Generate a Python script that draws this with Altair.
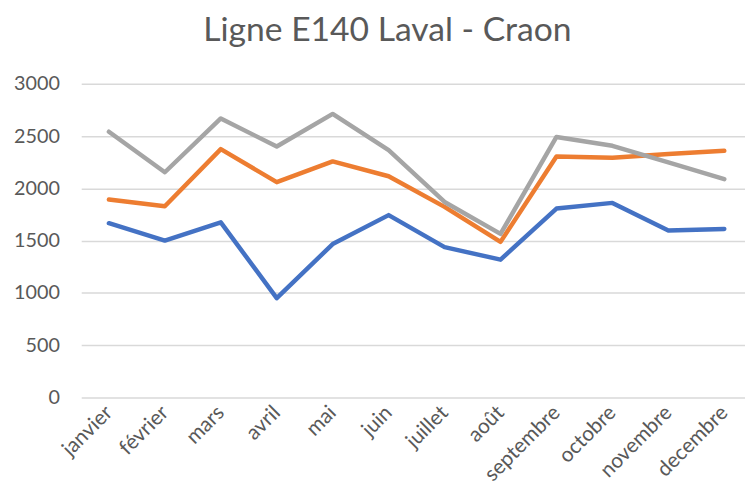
import altair as alt
import pandas as pd

months = ["janvier", "février", "mars", "avril", "mai", "juin", "juillet",
          "août", "septembre", "octobre", "novembre", "decembre"]
series_names = ["Série 1", "Série 2", "Série 3"]
blue = [1667, 1500, 1675, 950, 1467, 1744, 1438, 1318, 1807, 1861, 1596, 1612]
orange = [1893, 1829, 2375, 2059, 2258, 2116, 1823, 1488, 2305, 2293, 2328, 2359]
gray = [2542, 2154, 2669, 2400, 2712, 2366, 1870, 1564, 2492, 2407, 2249, 2088]
colors = ["#4472C4", "#ED7D31", "#A5A5A5"]

rows = []
for name, vals in zip(series_names, [blue, orange, gray]):
    for i, (m, v) in enumerate(zip(months, vals)):
        rows.append({"mois": m, "valeur": v, "serie": name, "ordre": i})
df = pd.DataFrame(rows)

FONT = "Lato"
GREY_TXT = "#595959"
label_expr = "[" + ",".join("'" + m + "'" for m in months) + "][datum.value]"

chart = alt.Chart(df).mark_line(strokeWidth=4.5, strokeCap="round", strokeJoin="round").encode(
    x=alt.X("ordre:Q", scale=alt.Scale(domain=[-0.495, 11.37], nice=False, zero=False),
            axis=alt.Axis(title=None, values=list(range(len(months))), labelExpr=label_expr,
                          labelAngle=-45, labelFontSize=21, labelFont=FONT,
                          labelColor=GREY_TXT, ticks=False, domain=False, grid=False,
                          labelPadding=12, labelAlign="right", labelBaseline="middle",
                          labelFlush=False, labelOverlap=False)),
    y=alt.Y("valeur:Q", scale=alt.Scale(domain=[0, 3000], nice=False),
            axis=alt.Axis(title=None, values=[0, 500, 1000, 1500, 2000, 2500, 3000],
                          format="d", labelFontSize=20, labelFont=FONT, labelColor=GREY_TXT,
                          ticks=False, domain=False, gridColor="#D9D9D9", gridWidth=1.5,
                          labelPadding=22)),
    color=alt.Color("serie:N", scale=alt.Scale(domain=series_names, range=colors), legend=None),
    detail="serie:N",
).properties(
    width=671,
    height=317,
    title=alt.TitleParams("Ligne E140 Laval - Craon", font=FONT, fontSize=34,
                          fontWeight="normal", color=GREY_TXT, anchor="middle", dx=-26,
                          offset=26),
    autosize=alt.AutoSizeParams(type="none"),
    padding={"left": 74, "top": 74, "right": 0, "bottom": 97},
).configure_view(stroke=None)

chart.save("out.html", embed_options={"renderer": "svg", "actions": False})
